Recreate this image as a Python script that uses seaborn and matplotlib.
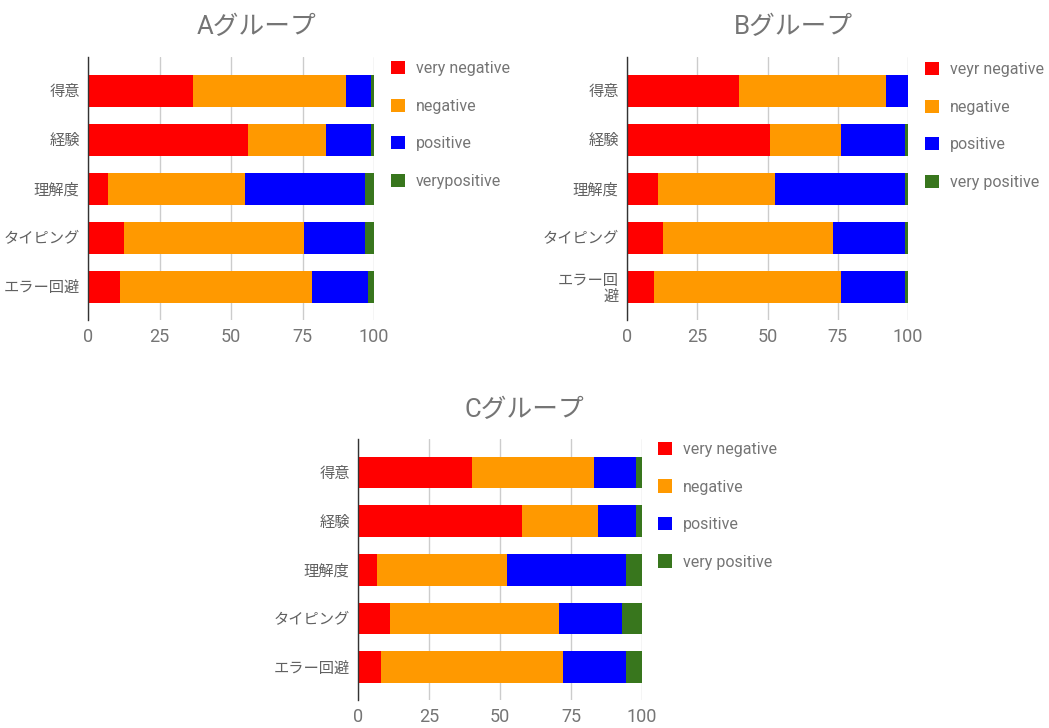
import matplotlib
matplotlib.use("Agg")
import matplotlib.pyplot as plt
from matplotlib.patches import Patch
import numpy as np
import pandas as pd
import seaborn as sns

# ---- data -------------------------------------------------------------
categories = ["得意", "経験", "理解度", "タイピング", "エラー回避"]
categories_b = ["得意", "経験", "理解度", "タイピング", "エラー回\n避"]

a_very_negative = [36.7, 55.9, 7.0, 12.7, 11.3]
a_negative = [53.4, 27.4, 47.9, 62.7, 67.1]
a_positive = [8.9, 15.7, 42.0, 21.5, 19.6]
a_very_positive = [1.0, 1.0, 3.1, 3.1, 2.0]
a_legend = ["very negative", "negative", "positive", "verypositive"]

b_very_negative = [39.8, 50.8, 11.2, 12.7, 9.5]
b_negative = [52.3, 25.3, 41.5, 60.6, 66.6]
b_positive = [7.9, 22.7, 46.1, 25.5, 22.7]
b_very_positive = [0.0, 1.2, 1.2, 1.2, 1.2]
b_legend = ["veyr negative", "negative", "positive", "very positive"]

c_very_negative = [40.1, 57.7, 6.6, 11.1, 8.0]
c_negative = [43.0, 26.8, 45.7, 59.8, 64.3]
c_positive = [14.7, 13.3, 42.2, 22.2, 22.2]
c_very_positive = [2.2, 2.2, 5.5, 6.9, 5.5]
c_legend = ["very negative", "negative", "positive", "very positive"]

x_ticks = [0, 25, 50, 75, 100]
titles = ["Aグループ", "Bグループ", "Cグループ"]

# ---- style ------------------------------------------------------------
sns.set_style("white")
plt.rcParams["font.family"] = ["Roboto", "Noto Sans CJK JP"]

colors = ["#ff0000", "#ff9900", "#0000ff", "#38761d"]
TEXT = "#757575"
LABEL = "#616161"

W, H = 1049, 728
fig = plt.figure(figsize=(W / 100, H / 100), dpi=100)


def px_axes(left, top, right, bottom):
    return fig.add_axes([left / W, 1 - bottom / H, (right - left) / W, (bottom - top) / H])


def draw_group(ax, series, ylabels, legend_labels, legend_xy, title, title_xy):
    df = pd.DataFrame({"category": categories})
    cum = np.zeros(len(categories))
    cols = []
    for i, vals in enumerate(series):
        cum = cum + np.asarray(vals, dtype=float)
        df[f"cum{i}"] = cum
        cols.append(f"cum{i}")
    # stack by overdrawing cumulative totals, widest first
    for col, color in reversed(list(zip(cols, colors))):
        sns.barplot(data=df, x=col, y="category", color=color, saturation=1,
                    width=0.65, linewidth=0, errorbar=None, orient="h", ax=ax)

    ax.set_xlim(0, 100)
    ax.set_ylim(4.68, -0.69)
    ax.set_xticks(x_ticks)
    ax.set_xticklabels([str(t) for t in x_ticks])
    ax.set_yticks(range(len(categories)))
    ax.set_yticklabels(ylabels)
    ax.set_xlabel("")
    ax.set_ylabel("")
    ax.set_axisbelow(True)
    ax.grid(axis="x", color="#cccccc", linewidth=1)
    ax.grid(axis="y", visible=False)
    for side in ["top", "right", "bottom"]:
        ax.spines[side].set_visible(False)
    ax.spines["left"].set_color("#333333")
    ax.spines["left"].set_linewidth(1)
    ax.tick_params(axis="x", length=0, pad=6, labelsize=13, labelcolor=TEXT)
    ax.tick_params(axis="y", length=0, pad=6, labelsize=11, labelcolor=LABEL)
    for lab in ax.get_yticklabels():
        lab.set_linespacing(1.15)

    handles = [Patch(facecolor=c, edgecolor="none") for c in colors]
    fig.legend(handles, legend_labels, loc="upper left",
               bbox_to_anchor=(legend_xy[0] / W, 1 - legend_xy[1] / H),
               bbox_transform=fig.transFigure, frameon=False,
               borderpad=0, borderaxespad=0, fontsize=11.5, labelcolor=TEXT,
               handlelength=0.9, handleheight=0.9, handletextpad=0.65,
               labelspacing=1.4)

    fig.text(title_xy[0] / W, 1 - title_xy[1] / H, title, ha="center", va="center",
             fontsize=18.5, color=TEXT)


ax_a = px_axes(88, 57, 374, 320)
draw_group(ax_a, [a_very_negative, a_negative, a_positive, a_very_positive],
           categories, a_legend, (391, 61), titles[0], (257, 27))

ax_b = px_axes(627, 57, 908, 320)
draw_group(ax_b, [b_very_negative, b_negative, b_positive, b_very_positive],
           categories_b, b_legend, (925, 62), titles[1], (793, 27))

ax_c = px_axes(358, 439, 642, 700)
draw_group(ax_c, [c_very_negative, c_negative, c_positive, c_very_positive],
           categories, c_legend, (658, 442), titles[2], (524, 410))

fig.savefig("out.png", dpi=100, facecolor="white")
